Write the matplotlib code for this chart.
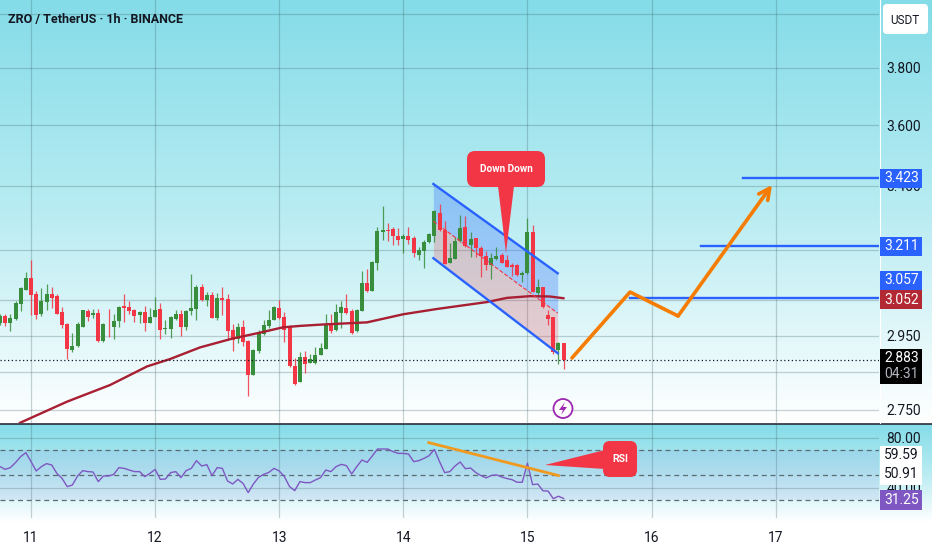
import numpy as np
import matplotlib
matplotlib.use('Agg')
import matplotlib.pyplot as plt
from matplotlib.colors import LinearSegmentedColormap
from matplotlib.patches import FancyBboxPatch, Polygon, Circle, Rectangle

plt.rcParams['font.family'] = ['Roboto', 'DejaVu Sans']

# hourly candles
opens = [2.984,3.006,2.984,2.997,3.039,3.080,3.114,3.068,3.010,3.046,
         3.068,3.062,3.016,2.982,2.910,2.920,2.975,3.020,3.009,3.013,
         2.934,2.978,2.975,2.991,3.033,3.031,3.022,3.009,3.016,2.985,
         3.003,3.025,2.968,2.968,2.997,3.012,2.974,3.019,3.025,3.088,
         3.051,3.064,2.998,3.058,3.054,2.966,2.940,2.975,2.935,2.842,
         2.907,2.953,2.977,2.994,3.028,3.003,2.975,2.866,2.822,2.892,
         2.874,2.874,2.895,2.913,2.983,2.966,3.013,3.027,3.020,2.963,
         3.020,3.100,3.078,3.159,3.255,3.260,3.263,3.242,3.231,3.240,
         3.234,3.184,3.197,3.222,3.240,3.314,3.260,3.161,3.172,3.226,
         3.270,3.214,3.234,3.206,3.182,3.154,3.171,3.183,3.169,3.154,
         3.154,3.125,3.129,3.255,3.072,3.088,3.008,3.001,2.909,2.928]
closes = [3.006,2.984,2.999,3.043,3.085,3.114,3.065,3.007,3.049,3.068,
          3.056,3.012,2.979,2.912,2.921,2.981,3.021,3.003,3.014,2.934,
          2.981,2.976,2.991,3.031,3.028,3.018,3.005,3.016,2.985,3.002,
          3.023,2.966,2.970,3.001,3.012,2.975,3.020,3.028,3.090,3.051,
          3.065,3.000,3.057,3.052,2.963,2.938,2.975,2.933,2.842,2.910,
          2.959,2.979,2.994,3.031,2.998,2.966,2.865,2.818,2.891,2.872,
          2.886,2.895,2.914,2.983,2.964,3.016,3.032,3.013,2.958,3.022,
          3.100,3.077,3.164,3.257,3.260,3.257,3.240,3.229,3.240,3.229,
          3.189,3.199,3.224,3.247,3.320,3.260,3.157,3.174,3.226,3.265,
          3.212,3.232,3.204,3.181,3.154,3.174,3.181,3.161,3.149,3.149,
          3.124,3.129,3.255,3.075,3.090,3.032,2.996,2.905,2.928,2.883]
highs = [3.012,3.010,3.012,3.048,3.090,3.134,3.169,3.078,3.085,3.097,
         3.088,3.068,3.031,2.984,2.956,2.989,3.022,3.024,3.024,3.024,
         2.986,3.025,3.010,3.033,3.068,3.048,3.024,3.018,3.035,3.027,
         3.059,3.041,2.995,3.005,3.022,3.022,3.022,3.127,3.095,3.097,
         3.073,3.075,3.070,3.088,3.068,2.981,2.986,2.995,2.938,2.912,
         2.966,2.995,3.021,3.033,3.052,3.015,2.979,2.887,2.905,2.906,
         2.900,2.918,2.930,3.012,3.011,3.040,3.048,3.068,3.024,3.024,
         3.135,3.141,3.166,3.268,3.334,3.280,3.270,3.265,3.248,3.270,
         3.240,3.207,3.229,3.250,3.322,3.341,3.288,3.219,3.238,3.307,
         3.304,3.255,3.234,3.211,3.196,3.191,3.209,3.191,3.184,3.159,
         3.157,3.137,3.296,3.275,3.111,3.090,3.022,3.001,2.933,2.930]
lows = [2.979,2.978,2.963,2.994,3.019,3.080,3.009,2.997,3.005,3.022,
        3.028,3.010,2.970,2.885,2.903,2.918,2.975,2.992,3.000,2.933,
        2.933,2.947,2.940,2.975,2.988,3.012,2.989,2.984,2.962,2.984,
        3.003,2.940,2.953,2.944,2.995,2.950,2.966,3.007,2.995,3.049,
        3.035,3.000,2.994,3.009,2.938,2.906,2.929,2.920,2.785,2.842,
        2.901,2.951,2.970,2.994,2.996,2.931,2.863,2.815,2.822,2.846,
        2.874,2.871,2.895,2.913,2.958,2.964,2.970,3.011,2.954,2.961,
        3.020,3.075,3.078,3.139,3.229,3.227,3.213,3.213,3.189,3.216,
        3.177,3.169,3.146,3.219,3.224,3.258,3.156,3.159,3.171,3.224,
        3.209,3.179,3.177,3.119,3.139,3.111,3.169,3.159,3.147,3.122,
        3.122,3.104,3.127,3.073,3.060,3.027,2.980,2.900,2.871,2.857]
rsi = [56.7,54.5,55.9,59.9,64.7,67.9,60.7,53.2,56.7,59.1,
       58.0,51.3,47.3,40.7,42.0,49.2,53.5,52.7,52.4,44.7,
       49.2,49.2,50.5,55.9,55.3,54.0,52.7,52.7,48.7,51.3,
       54.5,46.5,46.8,51.9,52.7,47.9,53.5,55.3,61.5,57.2,
       58.3,49.5,55.9,55.3,45.2,42.8,46.5,43.3,35.9,42.8,
       48.1,50.5,52.1,55.3,53.2,48.7,40.7,37.5,44.7,43.9,
       43.9,46.0,47.9,54.0,52.7,56.7,58.5,57.5,50.8,56.7,
       62.0,60.1,65.2,70.8,70.8,70.8,68.7,67.3,67.3,66.8,
       60.7,61.5,63.3,65.5,70.5,60.7,51.9,52.7,57.2,60.4,
       55.0,55.6,52.0,49.6,47.7,49.6,50.1,48.5,47.2,46.3,
       44.2,44.2,59.4,42.3,42.8,37.4,37.1,31.1,33.0,31.25]

ma_days = [10.911,11.29,11.637,11.935,12.12,12.362,12.628,12.845,13.03,13.168,
           13.353,13.708,14.0,14.27,14.675,14.835,15.02,15.18,15.29]
ma_vals = [2.716,2.771,2.815,2.865,2.885,2.917,2.942,2.958,2.973,2.977,
           2.981,2.987,3.010,3.025,3.045,3.057,3.062,3.061,3.056]

channel_days = [14.242,15.244]
channel_top = [3.405,3.129]
channel_mid = [3.287,3.013]
channel_bot = [3.174,2.901]

path_days = [15.359,15.827,16.214,16.971]
path_vals = [2.888,3.074,3.005,3.402]

level_days = [16.737,16.399,15.827]
level_vals = [3.423,3.211,3.057]

rsi_trend_days = [14.205,15.25]
rsi_trend_vals = [75.9,49.6]

day_ticks = [11,12,13,14,15,16,17]
price_ticks = [4.0,3.8,3.6,3.4,3.2,3.05,2.95,2.85,2.75]
# 4.000, 3.200, 3.050 and 2.850 sit fully behind the tags in the original
price_labels = ['','3.800','3.600','3.400','','','2.950','','2.750']

W,H=932,550
ORANGE='#f57c00'
BLUE='#2962ff'
RED='#f23645'
GREEN='#388e3c'
FS=10

fig=plt.figure(figsize=(W/100,H/100),dpi=100,facecolor='white')

def px_axes(left,top,right,bottom,**kw):		# axes from pixel edges, y counted from the top
	return fig.add_axes([left/W,1-bottom/H,(right-left)/W,(bottom-top)/H],**kw)

# backdrop gradients
back=px_axes(0,0,W,H,zorder=-1)
back.axis('off')
cmap=LinearSegmentedColormap.from_list('sky',['#84dce8','#b8ecf2','#ffffff'])
back.imshow(np.linspace(0,1,256)[:,None],cmap=cmap,aspect='auto',extent=(0,W,423,0))
back.imshow(np.linspace(0,1,256)[:,None],cmap=cmap,aspect='auto',extent=(0,W,522,424))
back.set_xlim(0,W)
back.set_ylim(H,0)

# price pane
ax=px_axes(0,0,879,423)
ax.patch.set_alpha(0)
ax.set_yscale('log')
ax.set_xlim(10.75,17.833)
ax.set_ylim(2.7156,4.0526)
ax.set_xticks(day_ticks)
ax.tick_params(axis='x',length=0,labelbottom=False)
ax.yaxis.tick_right()
ax.set_yticks(price_ticks)
ax.set_yticklabels(price_labels,fontsize=FS,ha='left',color='#131722')
ax.minorticks_off()
ax.tick_params(axis='y',length=0,pad=5.5)
ax.grid(True,color='#3f5f68',alpha=0.28,lw=0.9)
ax.set_axisbelow(True)
for s in ax.spines.values():
	s.set_visible(False)

xs=11+(np.arange(len(opens))-6)/24
o,c=np.array(opens),np.array(closes)
colours=[GREEN if b>=a else RED for a,b in zip(o,c)]
ax.vlines(xs,lows,highs,colors=colours,lw=0.9,alpha=0.85,zorder=3)
ax.bar(xs,np.abs(c-o),width=4/124.1,bottom=np.minimum(o,c),color=colours,zorder=4)

ax.plot(ma_days,ma_vals,color='#a81e32',lw=1.7,zorder=5)
ax.axhline(closes[-1],color='#131722',ls=(0,(1,2)),lw=0.9,zorder=5)

# falling channel
ax.fill_between(channel_days,channel_mid,channel_top,color=BLUE,alpha=0.28,lw=0,zorder=2)
ax.fill_between(channel_days,channel_bot,channel_mid,color=RED,alpha=0.22,lw=0,zorder=2)
ax.plot(channel_days,channel_top,color=BLUE,lw=1.7,zorder=6)
ax.plot(channel_days,channel_bot,color=BLUE,lw=1.7,zorder=6)
ax.plot(channel_days,channel_mid,color=RED,lw=0.8,ls='--',zorder=6)

# target levels and projected path
for d,v in zip(level_days,level_vals):
	ax.plot([d,17.833],[v,v],color=BLUE,lw=1.7,zorder=6)
ax.plot(path_days[:-1],path_vals[:-1],color=ORANGE,lw=2.6,zorder=7,solid_capstyle='round')
ax.annotate('',xy=(path_days[-1],path_vals[-1]),xytext=(path_days[-2],path_vals[-2]),zorder=7,
	arrowprops=dict(arrowstyle='->',color=ORANGE,lw=2.6,mutation_scale=20,shrinkA=0,shrinkB=0))

# rsi pane
ax2=px_axes(0,424,879,518,sharex=ax)
ax2.patch.set_alpha(0)
ax2.set_ylim(15.6,90.8)
ax2.axhspan(30,70,color='#6a5fd0',alpha=0.1,lw=0)
ax2.set_yticks([80,40])
ax2.set_yticklabels(['80.00','40.00'],fontsize=FS,ha='left',color='#131722')
ax2.yaxis.tick_right()
ax2.tick_params(axis='y',length=0,pad=5.5)
ax2.tick_params(axis='x',length=0,pad=9,labelbottom=True,labelsize=FS,labelcolor='#131722')
ax2.grid(True,color='#3f5f68',alpha=0.28,lw=0.9)
ax2.set_axisbelow(True)
for lev in (70,50,30):
	ax2.axhline(lev,color='#5d6b75',lw=0.9,ls=(0,(4,3)),zorder=2)
for s in ax2.spines.values():
	s.set_visible(False)
ax2.plot(xs,rsi,color='#7e57c2',lw=1,zorder=4)
ax2.plot(rsi_trend_days,rsi_trend_vals,color='#ef9a1f',lw=2,zorder=5)

# overlay in pixel space for callouts and price tags
top=px_axes(0,0,W,H,zorder=10)
top.axis('off')
top.set_xlim(0,W)
top.set_ylim(H,0)

top.plot([0,W],[423.5,423.5],color='#2a2e39',lw=1.2)
top.plot([879.5,879.5],[0,423],color='white',lw=0.8)

def tag(y0,y1,txt,bg,fg='white',second=None):
	top.add_patch(Rectangle((880,y0),42,y1-y0,color=bg,lw=0,zorder=3))
	if second:
		top.text(901.5,y0+9.5,txt,color=fg,fontsize=FS,ha='center',va='center',zorder=4)
		top.text(901.5,y1-10,second,color='#b2b5be',fontsize=FS,ha='center',va='center',zorder=4)
	elif txt:
		top.text(901.5,(y0+y1)/2,txt,color=fg,fontsize=FS,ha='center',va='center',zorder=4)

tag(169,188,'3.423',BLUE)
tag(236.5,255.5,'3.211',BLUE)
tag(271,290,'3.057',BLUE)
tag(290,309,'3.052','#b22833')
tag(349,384,'2.883','#000000',second='04:31')
tag(446,485,'','white')
top.text(901.5,455,'59.59',fontsize=FS,ha='center',va='center',color='#131722',zorder=4)
top.text(901.5,474.5,'50.91',fontsize=FS,ha='center',va='center',color='#131722',zorder=4)
tag(490,509.5,'31.25','#7e57c2')

top.add_patch(FancyBboxPatch((886,7),39,24,boxstyle='round,pad=3,rounding_size=4',fc='white',ec='none',zorder=3))
top.text(905,20,'USDT',fontsize=8.5,ha='center',va='center',color='#131722',zorder=4)

top.text(8,19,'ZRO / TetherUS · 1h · BINANCE',fontsize=9,fontweight='bold',color='#131722',ha='left',va='center')

# Down Down callout
top.add_patch(Polygon([(498,186),(514,186),(506,253)],color=RED,lw=0,zorder=3))
top.add_patch(FancyBboxPatch((473,157),66,24,boxstyle='round,pad=6,rounding_size=8',fc=RED,ec='none',zorder=3))
top.text(506,169,'Down Down',color='white',fontsize=7.2,fontweight='bold',ha='center',va='center',zorder=4)

# RSI callout
top.add_patch(Polygon([(545,465),(605,450),(605,469)],color=RED,lw=0,zorder=3))
top.add_patch(FancyBboxPatch((608,446),24,26,boxstyle='round,pad=5,rounding_size=7',fc=RED,ec='none',zorder=3))
top.text(620,458.5,'RSI',color='white',fontsize=7.5,fontweight='bold',ha='center',va='center',zorder=4)

# lightning marker
top.add_patch(Circle((563,408.5),9.5,fc='white',ec='#9c27b0',lw=1.3,zorder=3))
top.add_patch(Polygon([(565,402),(559,410),(563,410),(561,415),(567,407),(563,407)],color='#9c27b0',lw=0,zorder=4))

fig.savefig('out.png',dpi=100)
